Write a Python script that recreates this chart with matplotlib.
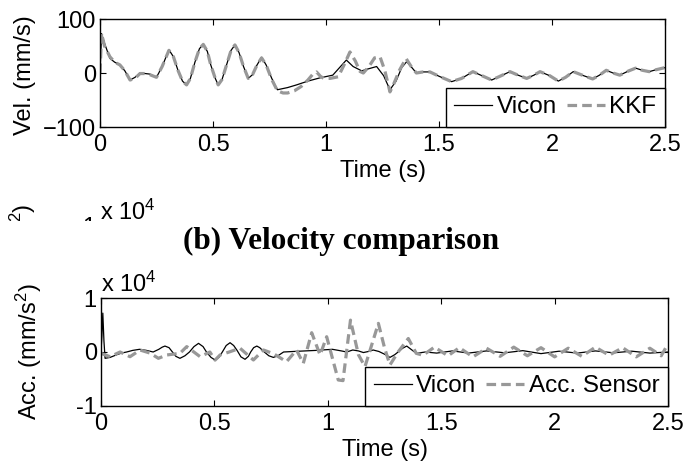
import matplotlib
matplotlib.use('Agg')
import matplotlib.pyplot as plt
from matplotlib.transforms import Bbox, TransformedBbox

plt.rcParams['font.family'] = ['Liberation Sans', 'DejaVu Sans']
plt.rcParams['mathtext.fontset'] = 'custom'
plt.rcParams['mathtext.rm'] = 'Liberation Sans'
plt.rcParams['mathtext.it'] = 'Liberation Sans:italic'
plt.rcParams['mathtext.bf'] = 'Liberation Sans:bold'

# Velocity (mm/s)
vel_vicon_t = [0, 0.007, 0.02, 0.044, 0.065, 0.088, 0.11, 0.133, 0.155, 0.177, 0.2, 0.22, 0.25, 0.275,
               0.305, 0.325, 0.345, 0.365, 0.383, 0.40, 0.42, 0.44, 0.457, 0.475, 0.49, 0.51, 0.523,
               0.54, 0.56, 0.58, 0.597, 0.615, 0.635, 0.656, 0.675, 0.695, 0.715, 0.735, 0.76, 0.785,
               0.83, 0.87, 0.92, 0.973, 1.03, 1.06, 1.09, 1.12, 1.158, 1.19, 1.224, 1.255, 1.283,
               1.31, 1.335, 1.357, 1.38, 1.40, 1.43, 1.46, 1.50, 1.556, 1.60, 1.65, 1.69, 1.733,
               1.77, 1.814, 1.85, 1.888, 1.92, 1.947, 1.99, 2.028, 2.06, 2.094, 2.14, 2.18, 2.21,
               2.24, 2.27, 2.30, 2.34, 2.37, 2.40, 2.43, 2.46, 2.5]
vel_vicon = [0, 73, 55, 27, 20, 15, 4, -13, -8, 0, -1, -2, -8, 12,
             43, 30, 5, -15, -22, -10, 20, 45, 53, 40, 15, -10, -22,
             -12, 15, 42, 52, 38, 12, -10, -3, 15, 29, 15, -10, -31,
             -27, -22, -15, -9, -4, 10, 24, 12, 4, 8, 12, -5, -31,
             -15, 10, 21, 10, 0, 2, 2, -6, -16, -10, 2.5, -5, -13,
             -6, 2.5, -4, -10, -4, 2.5, -5, -15, -8, 2.5, -5, -11, -4,
             5, 0, -4, 4, 9, 5, 2.5, 6, 10]

vel_kkf_t = [0, 0.007, 0.02, 0.044, 0.065, 0.088, 0.11, 0.133, 0.155, 0.177, 0.2, 0.22, 0.25, 0.275,
             0.305, 0.325, 0.345, 0.365, 0.383, 0.40, 0.42, 0.44, 0.457, 0.475, 0.49, 0.51, 0.523,
             0.54, 0.56, 0.58, 0.597, 0.615, 0.635, 0.656, 0.675, 0.695, 0.715, 0.735, 0.76, 0.785,
             0.81, 0.83, 0.86, 0.89, 0.92, 0.94, 0.958, 0.975, 0.99, 1.018, 1.054, 1.08, 1.106,
             1.13, 1.15, 1.165, 1.19, 1.215, 1.239, 1.26, 1.283, 1.30, 1.325, 1.354, 1.38, 1.40,
             1.43, 1.46, 1.50, 1.556, 1.60, 1.65, 1.69, 1.733, 1.77, 1.814, 1.85, 1.888, 1.92,
             1.947, 1.99, 2.028, 2.06, 2.094, 2.14, 2.18, 2.21, 2.24, 2.27, 2.30, 2.34, 2.37,
             2.40, 2.43, 2.46, 2.5]
vel_kkf = [0, 73, 50, 30, 20, 15, 4, -13, -10, -1, -1, -3, -8, 12,
           42, 30, 5, -15, -22, -10, 20, 45, 53, 40, 15, -10, -22,
           -12, 15, 42, 52, 38, 12, -10, -3, 15, 28, 15, -12, -33,
           -37, -37, -33, -25, -13, -3, 2, -6, -10, -10, -7, 15, 39,
           22, 3, 0, 12, 28, 30, 5, -35, -20, 5, 27, 10, 0,
           2, 2, -6, -16, -10, 2.5, -5, -13, -6, 2.5, -4, -10, -4,
           2.5, -5, -15, -8, 2.5, -5, -11, -4, 5, 0, -4, 4, 9,
           5, 2.5, 6, 10]

# Acceleration (mm/s^2)
acc_vicon_t = [0, 0.004, 0.008, 0.013, 0.018, 0.04, 0.07, 0.09, 0.113, 0.14, 0.17, 0.2, 0.23,
               0.255, 0.27, 0.282, 0.3, 0.315, 0.33, 0.348, 0.37, 0.39, 0.41, 0.43, 0.45, 0.465,
               0.485, 0.503, 0.52, 0.535, 0.552, 0.569, 0.585, 0.60, 0.617, 0.635, 0.65, 0.66,
               0.673, 0.687, 0.70, 0.72, 0.74, 0.76, 0.78, 0.805, 0.85, 0.90, 0.95, 1.02, 1.06,
               1.083, 1.11, 1.135, 1.157, 1.18, 1.20, 1.225, 1.25, 1.274, 1.295, 1.31, 1.33,
               1.348, 1.37, 1.39, 1.43, 1.48, 1.55, 1.62, 1.70, 1.78, 1.86, 1.94, 2.02, 2.10,
               2.18, 2.26, 2.34, 2.42, 2.5]
acc_vicon = [0, 3000, 7200, 2000, -1170, -1000, -500, -200, 0, 300, 500, 300, 0,
             500, 900, 1100, 800, 0, -800, -1170, -700, 0, 1000, 1600, 1000, 0,
             -1000, -1480, -1000, 0, 1200, 1720, 1200, 300, -900, -1350, -800, 0,
             800, 1100, 800, 0, -700, -1000, -700, 0, 100, 200, 300, 500, 200,
             0, 370, 200, -100, 100, 370, 100, -400, -1000, -500, 0, 700,
             1100, 400, -250, 0, -200, 200, -200, 200, -150, 250, -300, 150, -200,
             200, -150, 150, -200, 0]

acc_sensor_t = [0, 0.04, 0.084, 0.128, 0.172, 0.216, 0.253, 0.29, 0.348, 0.378, 0.437, 0.48, 0.503,
                0.525, 0.565, 0.613, 0.672, 0.716, 0.76, 0.818, 0.862, 0.892, 0.929, 0.966, 0.995,
                1.046, 1.067, 1.10, 1.135, 1.164, 1.195, 1.223, 1.25, 1.274, 1.31, 1.355, 1.39,
                1.42, 1.47, 1.53, 1.58, 1.64, 1.70, 1.76, 1.82, 1.88, 1.94, 2.00, 2.06, 2.12,
                2.18, 2.24, 2.30, 2.36, 2.42, 2.47, 2.5]
acc_sensor = [-250, -870, 0, -870, 370, -200, -1170, -550, -250, 1000, -870, 0, -1500,
              -550, 0, 700, -1480, 370, -300, -1800, 370, -2100, 3570, -550, 2830,
              -5180, -5300, 5900, -500, -2700, 1500, 5300, 800, -2400, 0, 2500, -250,
              -600, 900, -700, 800, -900, 700, -800, 900, -700, 800, -900, 700, -800,
              900, -600, 800, -900, 700, -700, 1500]

time_ticks = [0, 0.5, 1, 1.5, 2, 2.5]
time_labels = ['0', '0.5', '1', '1.5', '2', '2.5']
vel_ticks = [-100, 0, 100]
acc_ticks = [-10000, 0, 10000]
acc_labels = ['-1', '0', '1']

fs = 17
gray = '#989898'

fig = plt.figure(figsize=(6.85, 4.67), dpi=100)
ax1 = fig.add_axes([100 / 685, 1 - 127 / 467, 565 / 685, 108 / 467])
ax2 = fig.add_axes([101 / 685, 1 - 406 / 467, 567 / 685, 108 / 467])

ax1.plot(vel_vicon_t, vel_vicon, color='black', lw=0.9, label='Vicon')
ax1.plot(vel_kkf_t, vel_kkf, color=gray, lw=2.3, dashes=(3, 1.6), label='KKF')
ax1.set_ylim(-100, 100)
ax1.set_yticks(vel_ticks)
ax1.set_ylabel('Vel. (mm/s)', fontsize=fs)
ax1.yaxis.set_label_coords(-0.114, 0.48)

ax2.plot(acc_vicon_t, acc_vicon, color='black', lw=0.9, label='Vicon')
ax2.plot(acc_sensor_t, acc_sensor, color=gray, lw=2.3, dashes=(3, 1.6), label='Acc. Sensor')
ax2.set_ylim(-10000, 10000)
ax2.set_yticks(acc_ticks)
ax2.set_yticklabels(acc_labels)
ax2.set_ylabel('Acc. (mm/s$^2$)', fontsize=fs)
ax2.yaxis.set_label_coords(-0.1, 0.5)

for ax in (ax1, ax2):
    ax.set_xlim(0, 2.5)
    ax.set_xticks(time_ticks)
    ax.set_xticklabels(time_labels)
    ax.set_xlabel('Time (s)', fontsize=fs, labelpad=3)
    ax.tick_params(direction='in', top=True, right=True, length=4, width=0.8,
                   labelsize=fs, pad=3)
    ax.tick_params(axis='x', pad=5)
    for sp in ax.spines.values():
        sp.set_linewidth(1.0)
    leg = ax.legend(loc='lower right', ncol=2, fontsize=17.5, borderaxespad=0,
                    fancybox=False, framealpha=1, edgecolor='black',
                    borderpad=0.35, handlelength=1.55, handletextpad=0.2,
                    columnspacing=0.4)
    leg.get_frame().set_linewidth(1.0)

# exponent label of the bottom panel
fig.text(101 / 685, 1 - 291.5 / 467, r'x 10$^4$', fontsize=fs, va='baseline', ha='left')

# clipped remains of a covered panel above the caption
clip = TransformedBbox(Bbox([[0, 1 - 220.5 / 467], [0.3, 0.7]]), fig.transFigure)
frag = [
    fig.text(100 / 685, 1 - 220 / 467, r'x 10$^4$', fontsize=fs, va='baseline', ha='left'),
    fig.text(95 / 685, 1 - 217 / 467, '1', fontsize=fs, va='top', ha='right'),
    fig.text(23 / 685, 1 - 204 / 467, 's$^2$)', fontsize=fs, rotation=90,
             va='top', ha='center'),
]
for t in frag:
    t.set_clip_box(clip)
    t.set_clip_on(True)

fig.text(341 / 685, 1 - 249 / 467, '(b) Velocity comparison', fontsize=22.5,
         family='Liberation Serif', weight='bold', ha='center', va='baseline')

fig.savefig('out.png', dpi=100)
